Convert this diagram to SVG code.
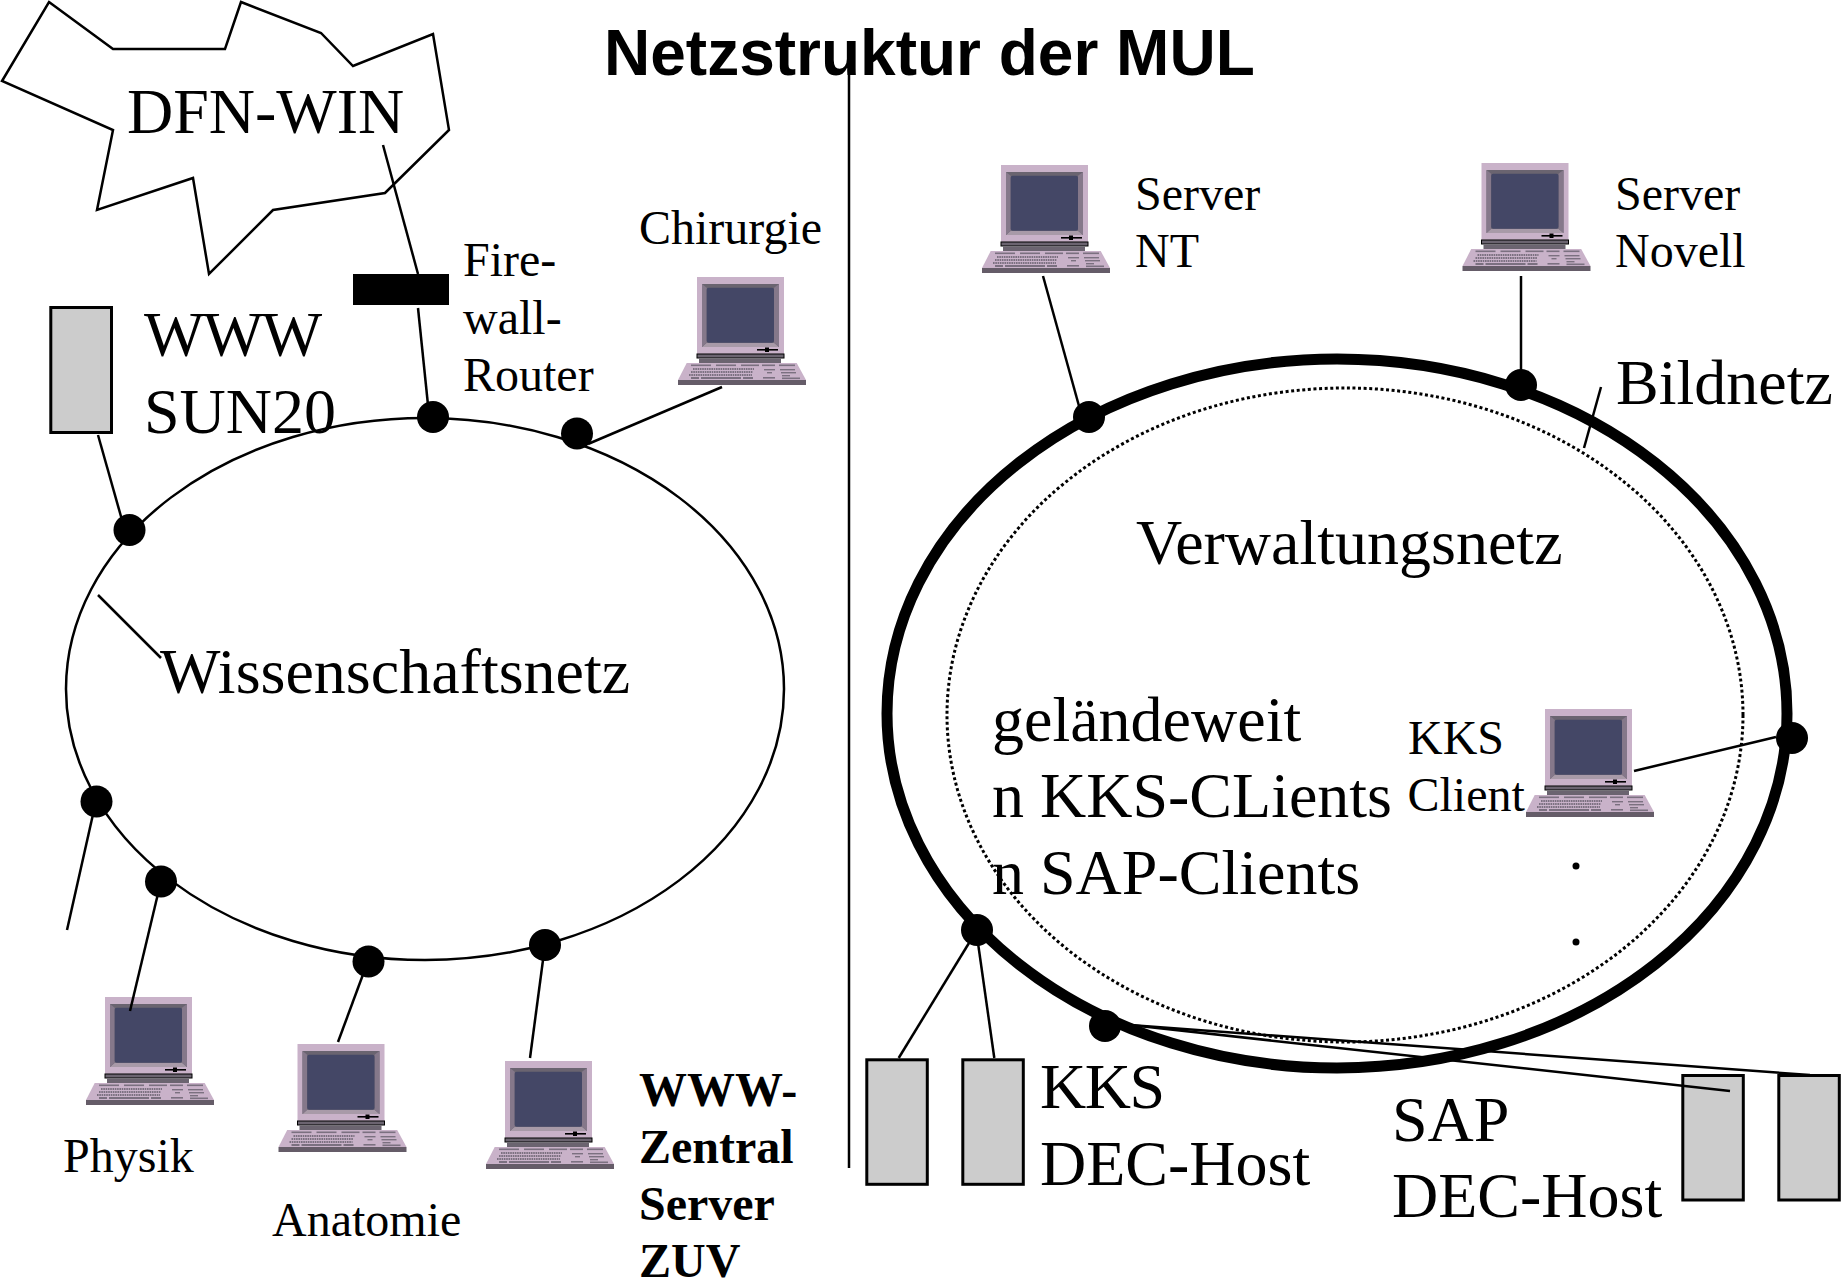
<svg xmlns="http://www.w3.org/2000/svg" xmlns:xlink="http://www.w3.org/1999/xlink" width="1845" height="1283" viewBox="0 0 1845 1283">
<style>
text{font-family:"Liberation Serif","Times New Roman",serif;fill:#000}
.l{font-size:64px}
.s{font-size:48px}
.b{font-size:48px;font-weight:bold}
.t{font-family:"Liberation Sans",Arial,sans-serif;font-size:64px;font-weight:bold}
.k{letter-spacing:-1.5px}
.c line{stroke:#000;stroke-width:2.5;fill:none}
.host{fill:#ccc;stroke:#000;stroke-width:3}
.dot{fill:#000}
.ring{fill:none;stroke:#000}
</style>
<defs>
<g id="pc">
<rect x="19" y="0" width="87" height="77" fill="#c9b2c9"/>
<rect x="24" y="7" width="77" height="63" fill="#6a6470"/>
<polygon points="24,70 101,70 96,65.7 28.7,65.7" fill="#a89aa8"/>
<polygon points="24,7 28.7,10.7 28.7,65.7 24,70" fill="#85788a"/>
<polygon points="101,7 96,10.7 96,65.7 101,70" fill="#85788a"/>
<rect x="28.7" y="10.7" width="67.3" height="55" rx="2" fill="#444766"/>
<rect x="79" y="72" width="21" height="1.6" fill="#000"/><rect x="87" y="70.5" width="4" height="4.5" fill="#000"/>
<rect x="19" y="77" width="87" height="4" fill="#6b6470" stroke="#000" stroke-width="1"/>
<rect x="21" y="81.5" width="82" height="4.5" fill="#6b6470"/>
<polygon points="8.7,86 118.7,86 128,103 0,103" fill="#c9b2c9"/>
<rect x="0" y="103" width="128" height="5" fill="#655c68"/>
<g fill="#7b7080">
<rect x="13" y="87.5" width="20" height="1.6"/><rect x="38" y="87.5" width="20" height="1.6"/><rect x="63" y="87.5" width="18" height="1.6"/><rect x="84" y="87.5" width="13" height="1.6"/><rect x="101" y="87.5" width="16" height="1.6"/>
<rect x="13" y="100" width="8" height="2"/><rect x="23" y="100" width="40" height="2"/><rect x="65" y="100" width="10" height="2"/>
<rect x="86" y="92" width="11" height="1.4"/><rect x="89" y="95" width="5" height="1.4"/><rect x="85" y="100" width="12" height="1.6"/>
<rect x="102" y="92" width="15" height="1.4"/><rect x="103" y="95" width="15" height="1.4"/><rect x="104" y="98" width="8" height="1.4"/><rect x="104" y="100.5" width="18" height="1.6"/>
</g>
<g stroke="#7b7080" stroke-width="1.8" stroke-dasharray="1.6 .7" fill="none">
<path d="M15 92H76M13 95H75M11 98H74"/>
</g>
</g>
</defs>
<rect width="1845" height="1283" fill="#fff"/>

<g id="title"><text class="t" x="604" y="75">Netzstruktur der MUL</text></g>

<g id="dfn-win">
<polygon points="49,2 113,49 225,49 241,2 321,33 353,66 433,34 449,130 385,193 273,210 209,274 193,178 97,210 113,130 2,81" fill="#fff" stroke="#000" stroke-width="2.5"/>
<text class="l" x="127" y="133">DFN-WIN</text>
</g>

<g id="rings">
<ellipse id="wissenschaftsnetz-ring" class="ring" cx="425" cy="689" rx="359" ry="271" stroke-width="2.5"/>
<ellipse id="bildnetz-ring" class="ring" cx="1337" cy="713.5" rx="450" ry="354.5" stroke-width="11"/>
<ellipse id="verwaltungsnetz-ring" class="ring" cx="1345" cy="715" rx="398" ry="327" stroke-width="3" stroke-dasharray="3 2.6"/>
</g>

<g id="firewall"><rect x="353" y="274" width="96" height="31" fill="#000"/>
<text class="s" x="463" y="276">Fire-</text><text class="s" x="463" y="334">wall-</text><text class="s" x="463" y="391">Router</text></g>

<g id="www-sun20"><rect class="host" x="50.8" y="307.5" width="60.7" height="125"/>
<text class="l k" x="144" y="356">WWW</text><text class="l" x="144" y="433">SUN20</text></g>

<g id="chirurgie"><use xlink:href="#pc" href="#pc" x="678" y="277"/><text class="s" x="639" y="244">Chirurgie</text></g>
<g id="physik"><use xlink:href="#pc" href="#pc" x="86" y="997"/><text class="s" x="63" y="1172">Physik</text></g>
<g id="anatomie"><use xlink:href="#pc" href="#pc" x="278.500" y="1044"/><text class="s" x="272" y="1236">Anatomie</text></g>
<g id="www-zentral"><use xlink:href="#pc" href="#pc" x="486" y="1061"/>
<text class="b" x="639" y="1106">WWW-</text><text class="b" x="639" y="1163">Zentral</text><text class="b" x="639" y="1220">Server</text><text class="b" x="639" y="1277">ZUV</text></g>
<g id="server-nt"><use xlink:href="#pc" href="#pc" x="982" y="165"/><text class="s" x="1135" y="210">Server</text><text class="s" x="1135" y="267">NT</text></g>
<g id="server-novell"><use xlink:href="#pc" href="#pc" x="1462.500" y="163"/><text class="s" x="1615" y="210">Server</text><text class="s" x="1615" y="267">Novell</text></g>
<g id="kks-client"><use xlink:href="#pc" href="#pc" x="1526" y="709"/><text class="s" x="1408" y="754">KKS</text><text class="s" x="1407.500" y="811">Client</text></g>

<g id="labels">
<text class="l" x="160" y="693">Wissenschaftsnetz</text>
<text class="l" x="1616" y="404">Bildnetz</text>
<text class="l" x="1136" y="564">Verwaltungsnetz</text>
<text class="l" x="992" y="741">geländeweit</text>
<text class="l" x="992" y="817">n KKS-CLients</text>
<text class="l" x="992" y="894">n SAP-Clients</text>
</g>

<g id="kks-host"><rect class="host" x="866.800" y="1059.800" width="60.500" height="124.500"/><rect class="host" x="962.800" y="1059.800" width="60.500" height="124.500"/>
<text class="l k" x="1040" y="1108">KKS</text><text class="l" x="1040" y="1185">DEC-Host</text></g>
<g id="sap-host"><rect class="host" x="1682.800" y="1075.500" width="60.500" height="124.500"/><rect class="host" x="1778.800" y="1075.500" width="60.500" height="124.500"/>
<text class="l" x="1392" y="1141">SAP</text><text class="l" x="1392" y="1217">DEC-Host</text></g>

<g id="connectors" class="c">
<line x1="849" y1="70" x2="849" y2="1168"/>
<line x1="383" y1="145" x2="418" y2="274"/>
<line x1="418" y1="308" x2="428" y2="405"/>
<line x1="98" y1="435" x2="122" y2="520"/>
<line x1="98" y1="595" x2="161" y2="658"/>
<line x1="96" y1="801" x2="67" y2="930"/>
<line x1="161" y1="881" x2="130" y2="1011"/>
<line x1="368" y1="961" x2="338" y2="1042"/>
<line x1="545" y1="945" x2="530" y2="1058"/>
<line x1="588" y1="444" x2="722" y2="387"/>
<line x1="1043" y1="276" x2="1079" y2="406"/>
<line x1="1521" y1="276" x2="1521" y2="385"/>
<line x1="1601" y1="387" x2="1584" y2="448"/>
<line x1="1634" y1="771" x2="1776" y2="737"/>
<line x1="969" y1="943" x2="898.700" y2="1058"/>
<line x1="978" y1="943" x2="994.300" y2="1058"/>
<line x1="1130" y1="1025" x2="1810" y2="1075"/>
<line x1="1130" y1="1025" x2="1730" y2="1091"/>
</g>

<g id="junctions">
<circle class="dot" cx="433" cy="417" r="16"/>
<circle class="dot" cx="577" cy="433.500" r="16"/>
<circle class="dot" cx="129.500" cy="530" r="16"/>
<circle class="dot" cx="96.500" cy="801.500" r="16"/>
<circle class="dot" cx="161" cy="881.500" r="16"/>
<circle class="dot" cx="368.500" cy="961.500" r="16"/>
<circle class="dot" cx="545" cy="945" r="16"/>
<circle class="dot" cx="1089" cy="417" r="16"/>
<circle class="dot" cx="1521" cy="385" r="16"/>
<circle class="dot" cx="1792" cy="738" r="16"/>
<circle class="dot" cx="977" cy="930" r="16"/>
<circle class="dot" cx="1105" cy="1026" r="16"/>
<circle class="dot" cx="1576" cy="866" r="3.500"/>
<circle class="dot" cx="1576" cy="942" r="3.500"/>
</g>
</svg>
